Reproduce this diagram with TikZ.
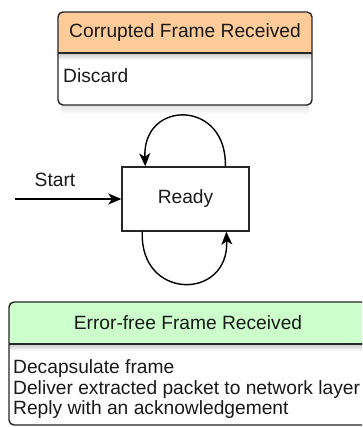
\documentclass[tikz,border=0pt]{standalone}
\usepackage{fontspec}
\setmainfont{Liberation Sans}
\usetikzlibrary{arrows.meta,calc}
\definecolor{peach}{HTML}{FFCC99}
\definecolor{mint}{HTML}{CCFFCC}
\tikzset{
  lbl/.style={inner sep=0pt, font=\fontsize{19.2}{21}\selectfont, text=black!90},
  boxline/.style={draw=black!85, line width=1.4pt},
  conn/.style={draw=black, line width=1.4pt, -{Stealth[length=13pt,width=11pt,inset=3.5pt]}},
  shadowstrip/.style={top color=black!22, bottom color=white, draw=none},
}
\begin{document}
\begin{tikzpicture}[x=1pt,y=-1pt]
\clip (0,0) rectangle (362,427);
\fill[white] (0,0) rectangle (362,427);
% ---------- top box: Corrupted Frame Received
\shade[shadowstrip, top color=black!12] (61,105) rectangle (309,114);
\begin{scope}
  \clip[rounded corners=5] (58,12) rectangle (312,105);
  \fill[white] (58,12) rectangle (312,105);
  \fill[peach] (58,12) rectangle (312,53);
  \shade[shadowstrip] (58,53) rectangle (312,60);
\end{scope}
\draw[boxline] (58,53) -- (312,53);
\draw[boxline, rounded corners=5] (58,12) rectangle (312,105);
\node[lbl] (ct) at (185,33) {Corrupted Frame Received};
\node[lbl, anchor=base west] (cd) at (63,83) {Discard};
% ---------- Ready state
\node[boxline, minimum width=127pt, minimum height=64pt, inner sep=0pt,
      font=\fontsize{19.2}{21}\selectfont, text=black!90] (ready) at (185.5,199) {Ready};
\node[lbl, anchor=base] (start) at (55,187) {Start};
\coordinate (s0) at (15,199);
\draw[conn] (s0) -- (ready.west);
% self loops
\coordinate (t1) at ($(ready.north west)+(104,0)$);
\coordinate (t2) at ($(ready.north west)+(24,0)$);
\draw[conn] (t1) .. controls ($(t1)+(2,-67)$) and ($(t2)+(-3,-67)$) .. (t2);
\coordinate (b1) at ($(ready.south west)+(21,0)$);
\coordinate (b2) at ($(ready.south west)+(105,0)$);
\draw[conn] (b1) .. controls ($(b1)+(-3,69)$) and ($(b2)+(3,69)$) .. (b2);
% ---------- bottom box: Error-free Frame Received
\begin{scope}
  \clip[rounded corners=5] (9,302) rectangle (367,425);
  \fill[white] (9,302) rectangle (367,425);
  \fill[mint] (9,302) rectangle (367,344);
  \shade[shadowstrip] (9,344) rectangle (367,351);
\end{scope}
\draw[boxline] (9,344) -- (367,344);
\draw[boxline, rounded corners=5] (9,302) rectangle (367,425);
\node[lbl] (et) at (188,323) {Error-free Frame Received};
\node[lbl, anchor=base west] (e1) at (13,373) {Decapsulate frame};
\node[lbl, anchor=base west] (e2) at (13,394) {Deliver extracted packet to network layer};
\node[lbl, anchor=base west] (e3) at (13,414) {Reply with an acknowledgement};
\end{tikzpicture}
\end{document}
